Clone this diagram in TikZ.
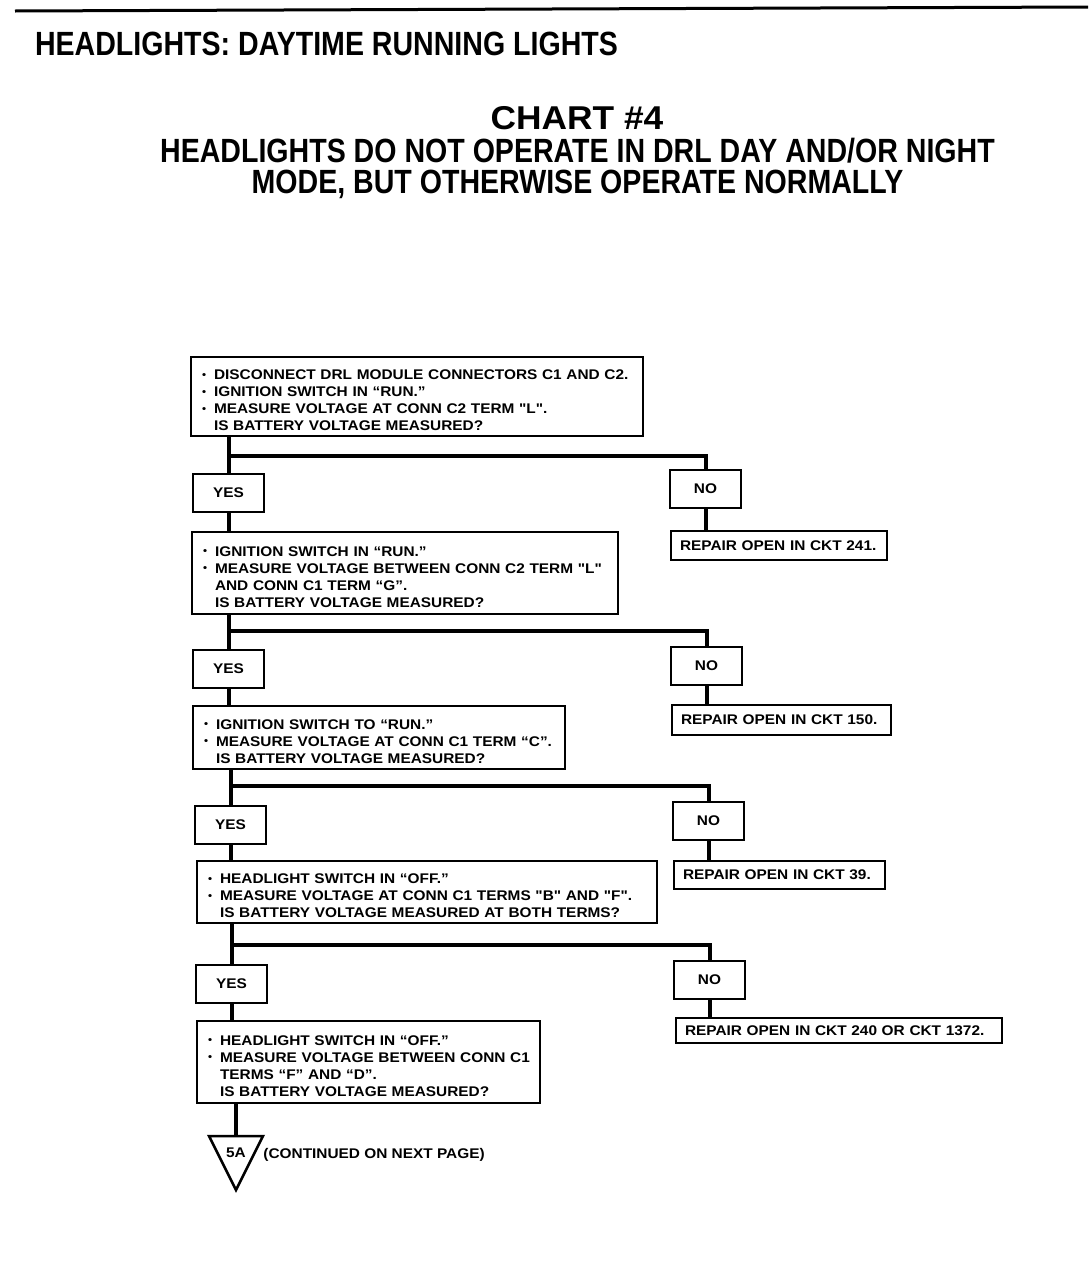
\documentclass[tikz,border=0pt]{standalone}
\usepackage{fontspec}
\setmainfont{Liberation Sans}
\newfontfamily\boxfont[FakeStretch=1.1]{Liberation Sans}
\newfontfamily\headfont[FakeStretch=0.85]{Liberation Sans}
\newfontfamily\chartfont[FakeStretch=1.07]{Liberation Sans}
\newcommand{\itemdot}[1]{\mbox{\makebox[6pt][l]{\raisebox{0.25ex}{\scalebox{0.75}{•}}}#1}}
\newcommand{\itemcont}[1]{\mbox{\hspace*{6pt}#1}}
\newcommand{\topgap}{\rule{0pt}{9pt}}

\begin{document}
\begin{tikzpicture}[x=0.5pt,y=-0.5pt, every node/.style={font=\boxfont\bfseries\fontsize{7}{8.5}\selectfont},
    qbox/.style={draw, line width=1pt, align=left, inner xsep=5.5pt, inner ysep=0pt},
    ansbox/.style={draw, line width=1pt, minimum width=35.5pt, minimum height=19pt, inner sep=0pt},
    fixbox/.style={draw, line width=1pt, align=left, inner xsep=4.5pt, inner ysep=0pt},
    link/.style={line width=2pt}]
    \useasboundingbox (0,0) rectangle (1088,1280);
    \draw[line width=1.5pt] (15,11) -- (1088,7);
    \node[font=\headfont\bfseries\fontsize{16.8}{20}\selectfont, anchor=west] (head) at (28,44) {HEADLIGHTS: DAYTIME RUNNING LIGHTS};
    \node[font=\chartfont\bfseries\fontsize{16.5}{20}\selectfont] (chart) at (577,118) {CHART \#4};
    \node[font=\headfont\bfseries\fontsize{16.8}{15.5}\selectfont, align=center] (title) at (577.5,168) {HEADLIGHTS DO NOT OPERATE IN DRL DAY AND/OR NIGHT\\MODE, BUT OTHERWISE OPERATE NORMALLY};
    % questions
    \node[qbox, text width=215pt, minimum height=39.5pt] (q1) at (417,396.5) {\topgap\itemdot{DISCONNECT DRL MODULE CONNECTORS C1 AND C2.}\\\itemdot{IGNITION SWITCH IN “RUN.”}\\\itemdot{MEASURE VOLTAGE AT CONN C2 TERM "L".}\\\itemcont{IS BATTERY VOLTAGE MEASURED?}};
    \node[qbox, text width=202pt, minimum height=41pt] (q2) at (405,573) {\topgap\itemdot{IGNITION SWITCH IN “RUN.”}\\\itemdot{MEASURE VOLTAGE BETWEEN CONN C2 TERM "L"}\\\itemcont{AND CONN C1 TERM “G”.}\\\itemcont{IS BATTERY VOLTAGE MEASURED?}};
    \node[qbox, text width=175pt, minimum height=31.5pt] (q3) at (379,737.5) {\topgap\itemdot{IGNITION SWITCH TO “RUN.”}\\\itemdot{MEASURE VOLTAGE AT CONN C1 TERM “C”.}\\\itemcont{IS BATTERY VOLTAGE MEASURED?}};
    \node[qbox, text width=219pt, minimum height=31pt] (q4) at (427,892) {\topgap\itemdot{HEADLIGHT SWITCH IN “OFF.”}\\\itemdot{MEASURE VOLTAGE AT CONN C1 TERMS "B" AND "F".}\\\itemcont{IS BATTERY VOLTAGE MEASURED AT BOTH TERMS?}};
    \node[qbox, text width=160.5pt, minimum height=41pt] (q5) at (368.5,1062) {\topgap\itemdot{HEADLIGHT SWITCH IN “OFF.”}\\\itemdot{MEASURE VOLTAGE BETWEEN CONN C1}\\\itemcont{TERMS “F” AND “D”.}\\\itemcont{IS BATTERY VOLTAGE MEASURED?}};
    % answers
    \node[ansbox] (yes1) at (228.5,492.5) {YES};
    \node[ansbox] (yes2) at (228.5,669) {YES};
    \node[ansbox] (yes3) at (230.5,825) {YES};
    \node[ansbox] (yes4) at (231.5,984) {YES};
    \node[ansbox] (no1) at (705.5,489) {NO};
    \node[ansbox] (no2) at (706.5,666) {NO};
    \node[ansbox] (no3) at (708.5,821) {NO};
    \node[ansbox] (no4) at (709.5,980) {NO};
    % repairs
    \node[fixbox, text width=99pt, minimum height=14.5pt] (r1) at (779,545.5) {REPAIR OPEN IN CKT 241.};
    \node[fixbox, text width=100.5pt, minimum height=15pt] (r2) at (781.5,720) {REPAIR OPEN IN CKT 150.};
    \node[fixbox, text width=96.5pt, minimum height=14pt] (r3) at (779.5,875) {REPAIR OPEN IN CKT 39.};
    \node[fixbox, text width=154pt, minimum height=12.5pt] (r4) at (839,1030.5) {REPAIR OPEN IN CKT 240 OR CKT 1372.};
    % branches
    \coordinate (br1) at (yes1.north |- 0,456);
    \coordinate (br2) at (yes2.north |- 0,631);
    \coordinate (br3) at (yes3.north |- 0,786);
    \coordinate (br4) at (yes4.north |- 0,945);
    \draw[link] (q1.south -| yes1.north) -- (yes1.north);
    \draw[link] (br1) -| (no1.north);
    \draw[link] (no1.south) -- (no1.south |- r1.north);
    \draw[link] (yes1.south) -- (yes1.south |- q2.north);
    \draw[link] (q2.south -| yes2.north) -- (yes2.north);
    \draw[link] (br2) -| (no2.north);
    \draw[link] (no2.south) -- (no2.south |- r2.north);
    \draw[link] (yes2.south) -- (yes2.south |- q3.north);
    \draw[link] (q3.south -| yes3.north) -- (yes3.north);
    \draw[link] (br3) -| (no3.north);
    \draw[link] (no3.south) -- (no3.south |- r3.north);
    \draw[link] (yes3.south) -- (yes3.south |- q4.north);
    \draw[link] (q4.south -| yes4.north) -- (yes4.north);
    \draw[link] (br4) -| (no4.north);
    \draw[link] (no4.south) -- (no4.south |- r4.north);
    \draw[link] (yes4.south) -- (yes4.south |- q5.north);
    % off-page connector
    \coordinate (t5) at (236,1136);
    \draw[link] (q5.south -| t5) -- (t5);
    \draw[line width=1.25pt, line join=miter] (209,1136) -- (263,1136) -- (236,1190) -- cycle;
    \node[inner sep=0pt] (p5a) at (236,1153) {5A};
    \node[anchor=west, inner sep=0pt] (cont) at (263,1155) {(CONTINUED ON NEXT PAGE)};
\end{tikzpicture}
\end{document}
